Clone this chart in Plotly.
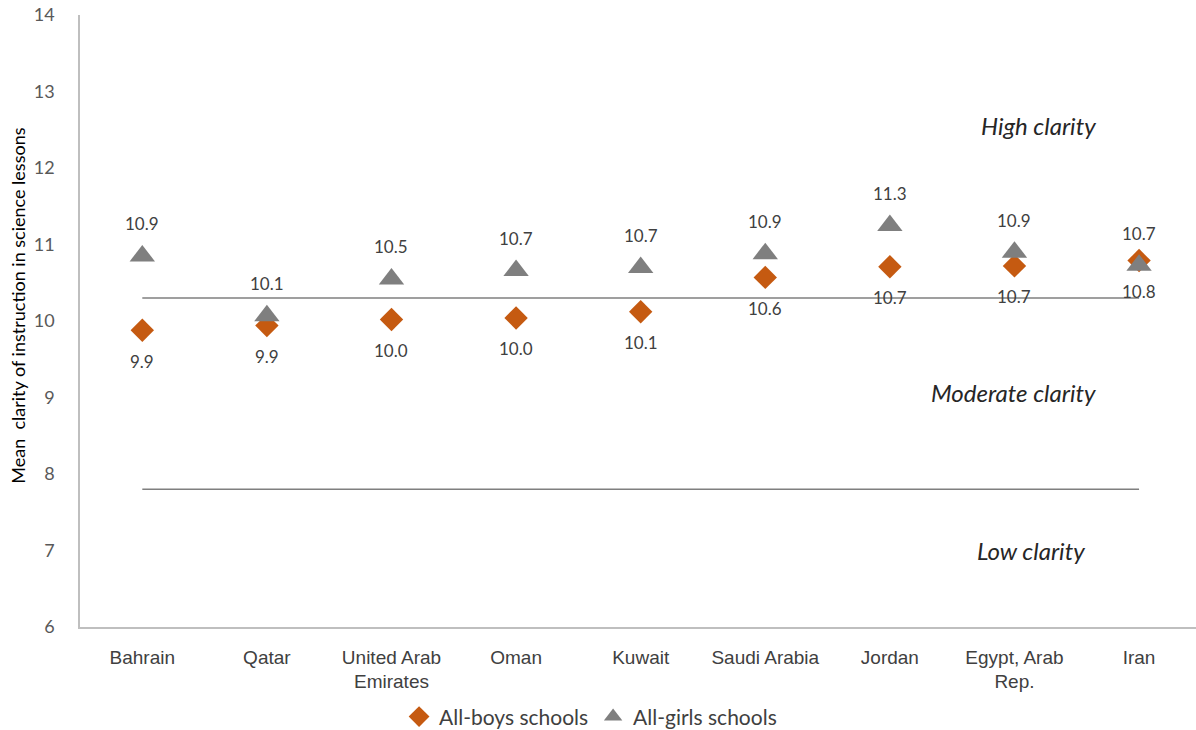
import plotly.graph_objects as go

countries = ["Bahrain", "Qatar", "United Arab<br>Emirates", "Oman", "Kuwait",
             "Saudi Arabia", "Jordan", "Egypt, Arab<br>Rep.", "Iran"]
boys = [9.88, 9.94, 10.02, 10.04, 10.12, 10.57, 10.71, 10.72, 10.79]
girls = [10.85, 10.07, 10.55, 10.66, 10.70, 10.88, 11.25, 10.90, 10.73]
boys_labels = ["9.9", "9.9", "10.0", "10.0", "10.1", "10.6", "10.7", "10.7", "10.8"]
girls_labels = ["10.9", "10.1", "10.5", "10.7", "10.7", "10.9", "11.3", "10.9", "10.7"]
thresholds = [10.3, 7.8]
zone_labels = ["High clarity", "Moderate clarity", "Low clarity"]
zone_y = [12.56, 9.07, 7.0]
zone_x = [7.67, 7.67, 7.58]

xs = list(range(len(countries)))
BOYS_C = "#C55A11"
GIRLS_C = "#7F7F7F"
FONT = "Lato, Open Sans, sans-serif"

fig = go.Figure()
for t in thresholds:
    fig.add_trace(go.Scatter(x=[xs[0], xs[-1]], y=[t, t], mode="lines",
                             line=dict(color="#7F7F7F", width=1.5),
                             showlegend=False, hoverinfo="skip"))
fig.add_trace(go.Scatter(x=xs, y=boys, mode="markers", name="All-boys schools",
                         marker=dict(symbol="diamond", size=18, color=BOYS_C)))
fig.add_trace(go.Scatter(x=xs, y=girls, mode="markers", name="All-girls schools",
                         marker=dict(symbol="triangle-up", size=22, color=GIRLS_C)))

lab_font = dict(family=FONT, size=17, color="#404040")
for x, y, t in zip(xs, boys, boys_labels):
    fig.add_annotation(x=x, y=y, text=t, showarrow=False, yshift=-31, font=lab_font)
for x, y, t in zip(xs, girls, girls_labels):
    fig.add_annotation(x=x, y=y, text=t, showarrow=False, yshift=32, font=lab_font)

for t, y, x in zip(zone_labels, zone_y, zone_x):
    fig.add_annotation(x=x, y=y, text="<i>" + t + "</i>", showarrow=False,
                       xanchor="right",
                       font=dict(family=FONT, size=24, color="#262626"))

fig.add_annotation(xref="paper", yref="paper", x=0, y=0.525, xshift=-62,
                   xanchor="center", yanchor="middle",
                   text="Mean  clarity of instruction in science lessons",
                   textangle=-90, showarrow=False,
                   font=dict(family=FONT, size=18, color="#000000"))

fig.update_layout(
    width=1196, height=730,
    margin=dict(l=80, r=0, t=15, b=103, autoexpand=False),
    plot_bgcolor="white", paper_bgcolor="white",
    legend=dict(orientation="h", x=0.4575, xanchor="center", y=-0.147, yanchor="middle",
                font=dict(family=FONT, size=21, color="#404040"),
                itemwidth=30, tracegroupgap=0),
)
fig.update_xaxes(range=[-0.5, 8.457], tickmode="array", tickvals=xs, ticktext=countries,
                 automargin=False,
                 showgrid=False, zeroline=False, showline=True, linecolor="#BFBFBF", linewidth=1.5,
                 ticks="outside", ticklen=12, tickcolor="rgba(0,0,0,0)",
                 tickfont=dict(family="Liberation Sans Narrow, Arial Narrow, sans-serif", size=19, color="#404040"))
fig.update_yaxes(range=[6, 14], tickmode="array", tickvals=list(range(6, 15)),
                 automargin=False,
                 showgrid=False, zeroline=False, showline=True, linecolor="#BFBFBF", linewidth=1.5,
                 ticks="outside", ticklen=20, tickcolor="rgba(0,0,0,0)",
                 tickfont=dict(family=FONT, size=18, color="#595959"))

fig.write_html("out.html", config={"displayModeBar": False},
               post_script="document.body.style.margin='0';document.body.style.overflow='hidden';")
